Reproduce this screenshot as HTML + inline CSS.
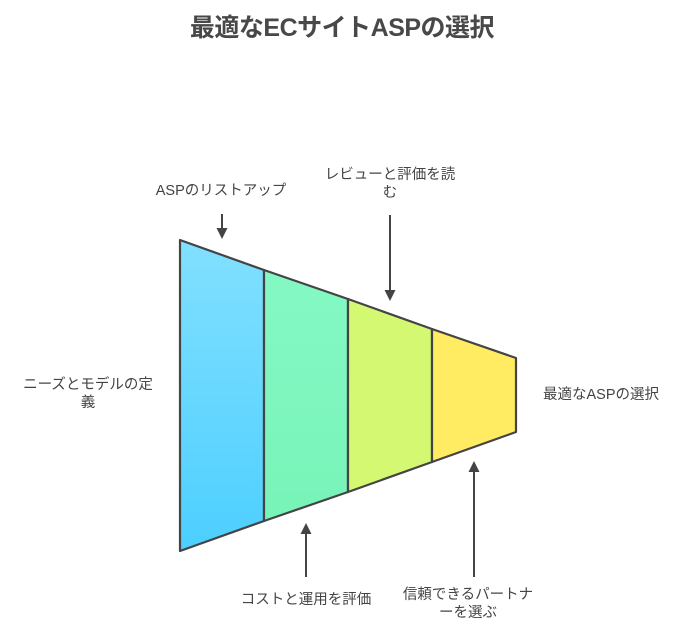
<!DOCTYPE html>
<html><head><meta charset="utf-8"><style>
html,body{margin:0;padding:0;background:#fff;}
body{width:684px;height:636px;position:relative;overflow:hidden;font-family:"Liberation Sans","Noto Sans CJK JP",sans-serif;}
.t{position:absolute;color:#444;font-size:14.5px;line-height:18px;text-align:center;white-space:nowrap;}
</style></head><body>
<div style="position:absolute;left:0;top:13px;width:684px;text-align:center;font-size:25px;line-height:30px;font-weight:bold;color:#484848;letter-spacing:-0.5px;">最適なECサイトASPの選択</div>
<svg width="684" height="636" style="position:absolute;left:0;top:0">
<defs>
<linearGradient id="g1" x1="0" y1="0" x2="0" y2="1"><stop offset="0" stop-color="#82e0ff"/><stop offset="1" stop-color="#4ccfff"/></linearGradient>
<linearGradient id="g2" x1="0" y1="0" x2="0" y2="1"><stop offset="0" stop-color="#84f8c4"/><stop offset="1" stop-color="#78f4b8"/></linearGradient>
</defs>
<g stroke="#444" stroke-width="2.2" stroke-linejoin="round">
<polygon points="180,240 264,270 264,521 180,551" fill="url(#g1)"/>
<polygon points="264,270 348,299 348,492 264,521" fill="url(#g2)"/>
<polygon points="348,299 432,329 432,462 348,492" fill="#d4f872"/>
<polygon points="432,329 516,358 516,432 432,462" fill="#ffec62"/>
</g>
<g stroke="#444" stroke-width="2" fill="#444">
<line x1="222" y1="214" x2="222" y2="230"/><polygon points="216.5,228 227.5,228 222,239" stroke="none"/>
<line x1="390" y1="215" x2="390" y2="292"/><polygon points="384.5,290 395.5,290 390,301" stroke="none"/>
<line x1="306" y1="577" x2="306" y2="532"/><polygon points="300.5,534 311.5,534 306,523" stroke="none"/>
<line x1="474" y1="577" x2="474" y2="470"/><polygon points="468.5,472 479.5,472 474,461" stroke="none"/>
</g>
</svg>
<div class="t" style="left:146px;top:182px;width:150px;">ASPのリストアップ</div>
<div class="t" style="left:315px;top:166px;width:150px;">レビューと評価を読<br>む</div>
<div class="t" style="left:13px;top:376px;width:150px;">ニーズとモデルの定<br>義</div>
<div class="t" style="left:536px;top:386px;width:130px;">最適なASPの選択</div>
<div class="t" style="left:231px;top:591px;width:150px;">コストと運用を評価</div>
<div class="t" style="left:393px;top:586px;width:150px;">信頼できるパートナ<br>ーを選ぶ</div>
</body></html>
